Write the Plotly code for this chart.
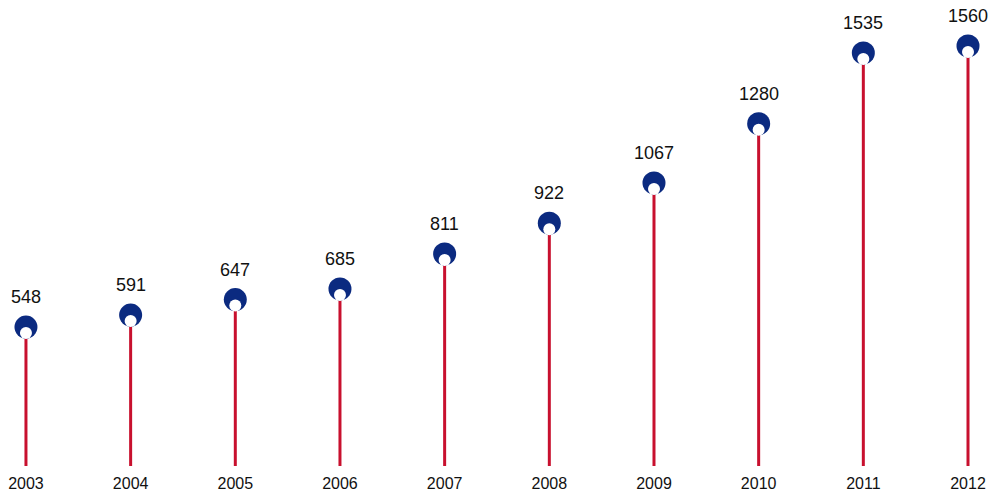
import plotly.graph_objects as go

years = [2003, 2004, 2005, 2006, 2007, 2008, 2009, 2010, 2011, 2012]
values = [548, 591, 647, 685, 811, 922, 1067, 1280, 1535, 1560]
tick_labels = [str(y) for y in years]

W, H = 989, 492
mt, mb = 0, 26
plot_h = H - mt - mb
y_range = [47.5, 1725.6]
px_per_unit = plot_h / (y_range[1] - y_range[0])
inner_offset = 6 / px_per_unit  # white inner circle shifted down ~6px

RED = "#c8102e"
BLUE = "#0b2a80"

fig = go.Figure()
for x, v in zip(years, values):
    fig.add_trace(go.Scatter(x=[x, x], y=[y_range[0], v], mode="lines",
                             line=dict(color=RED, width=3), hoverinfo="skip",
                             showlegend=False))
fig.add_trace(go.Scatter(x=years, y=values, mode="markers",
                         marker=dict(size=23, color=BLUE, line=dict(width=0)),
                         showlegend=False))
fig.add_trace(go.Scatter(x=years, y=[v - inner_offset for v in values], mode="markers",
                         marker=dict(size=12, color="white", line=dict(width=0)),
                         hoverinfo="skip", showlegend=False))

for x, v in zip(years, values):
    fig.add_annotation(x=x, y=v, text=str(v), showarrow=False, yshift=30,
                       font=dict(size=18, color="#111111",
                                 family="Liberation Sans, Arial, sans-serif"))

fig.update_layout(
    width=W, height=H,
    margin=dict(l=0, r=0, t=mt, b=mb),
    paper_bgcolor="white", plot_bgcolor="white",
    xaxis=dict(range=[2002.752, 2012.2006], tickvals=years, ticktext=tick_labels,
               showgrid=False, zeroline=False, showline=False, ticks="",
               ticklabelstandoff=6,
               tickfont=dict(size=16, color="#111111",
                             family="Liberation Sans, Arial, sans-serif")),
    yaxis=dict(range=y_range, visible=False, showgrid=False, zeroline=False),
    showlegend=False,
)

fig.write_html("out.html", config={"displayModeBar": False},
               post_script="document.body.style.margin='0px';document.body.style.overflow='hidden';")
